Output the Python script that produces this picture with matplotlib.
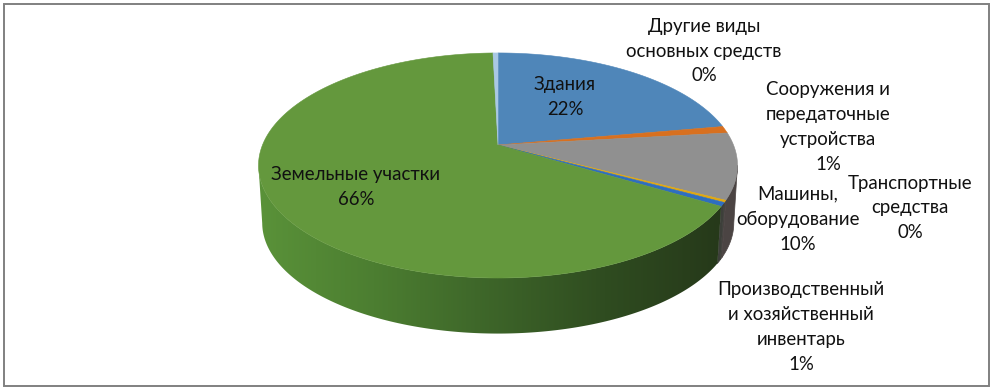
"""
Круговая диаграмма (3D) - структура основных средств
"""
import numpy as np
import matplotlib
matplotlib.use('Agg')
import matplotlib.pyplot as plt
from matplotlib.colors import LinearSegmentedColormap
from matplotlib.patches import Polygon, Rectangle

plt.rcParams['font.family'] = ['Lato', 'Noto Sans', 'DejaVu Sans']

# Данные
names = ['Здания', 'Сооружения и\nпередаточные\nустройства', 'Машины,\nоборудование',
         'Транспортные\nсредства', 'Производственный\nи хозяйственный\nинвентарь',
         'Земельные участки', 'Другие виды\nосновных средств']
values = [22.2, 1.0, 9.5, 0.3, 0.55, 66.05, 0.4]

top_colors = ['#4f86b9', '#d8701f', '#909090', '#e0a810', '#2f6ebf', '#64983d', '#a9c8e4']
side_colors = ['#2c4a66', '#6e3810', '#4b4443', '#4b4443', '#3d3f3a', '#2f4a1f', '#55647a']
label_x = [565, 828, 798, 910, 801, 356, 704]
label_y = [97, 127, 219, 208, 327, 187, 51]

# Geometria (pixels da imagem)
W, H = 993, 390
cx, cy = 498, 145      # vertice da pizza
a, b, k = 235.5, 108.8, 0.182   # perspectiva
depth = 58
shrink = 0.985
front_start, front_end = np.degrees(np.arccos(-k)), 360 - np.degrees(np.arccos(-k))


def proj(theta, r=1.0, down=0.0):
    t = np.radians(theta)
    w = 1 + k * r * np.cos(t)
    return cx + a * r * np.sin(t) / w, cy - b * r * np.cos(t) / w + down


fig = plt.figure(figsize=(W / 100, H / 100), dpi=100)
ax = fig.add_axes([0, 0, 1, 1])

edges = np.concatenate([[0], np.cumsum(values)]) / np.sum(values) * 360
side_cmap = LinearSegmentedColormap.from_list(
    'side', ['#5a9239', '#4c7e31', '#3d6529', '#2f4c20', '#26391a'])

# Paredes laterais (so a parte da frente)
for i in range(len(values)):
    t1, t2 = max(edges[i], front_start), min(edges[i + 1], front_end)
    if t2 <= t1:
        continue
    th = np.linspace(t1, t2, 200)
    x1, y1 = proj(th)
    x2, y2 = proj(th, shrink, depth)
    pts = np.column_stack([np.r_[x1, x2[::-1]], np.r_[y1, y2[::-1]]])
    if names[i] == 'Земельные участки':
        poly = Polygon(pts, closed=True, fc='none', ec='none')
        ax.add_patch(poly)
        grad = np.linspace(0, 1, 256).reshape(1, -1)
        im = ax.imshow(grad, cmap=side_cmap, aspect='auto',
                       extent=[pts[:, 0].min(), pts[:, 0].max(), H, 0], zorder=2)
        im.set_clip_path(poly)
    else:
        ax.add_patch(Polygon(pts, closed=True, fc=side_colors[i], ec=side_colors[i], lw=0.5, zorder=2))

# Face superior
for i in range(len(values)):
    th = np.linspace(edges[i], edges[i + 1], 200)
    x, y = proj(th)
    pts = np.column_stack([np.r_[cx, x], np.r_[cy, y]])
    ax.add_patch(Polygon(pts, closed=True, fc=top_colors[i], ec=top_colors[i], lw=0.4, zorder=3))

# Rotulos
for i in range(len(values)):
    ax.text(label_x[i], label_y[i], f'{names[i]}\n{round(values[i])}%', ha='center', va='center',
            multialignment='center', fontsize=13.4, color='#111111', linespacing=1.57, zorder=5)

# Moldura
ax.add_patch(Rectangle((3.5, 3.5), 985.5, 382.5, fc='none', ec='#808080', lw=1.4, zorder=6))

ax.set_xlim(0, W)
ax.set_ylim(H, 0)
ax.axis('off')
fig.savefig('out.png', dpi=100)
